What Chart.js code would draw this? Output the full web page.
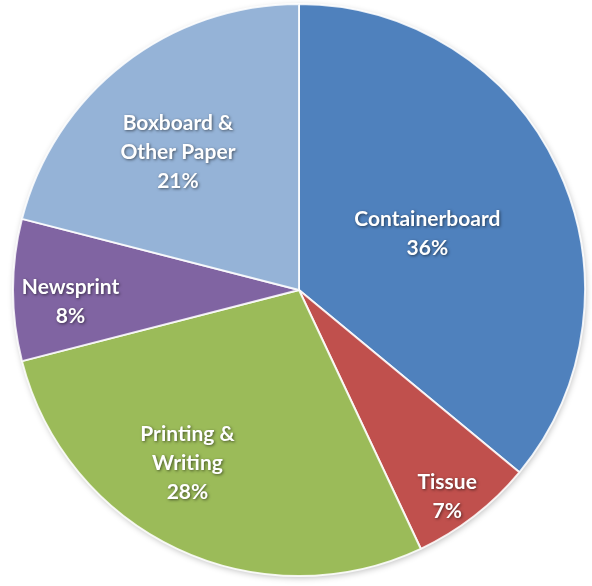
<!DOCTYPE html>
<html>
<head>
<meta charset="utf-8">
<script src="https://cdn.jsdelivr.net/npm/chart.js@4"></script>
<style>
  html, body { margin: 0; padding: 0; background: #fff; }
  #paperChart { display: block; }
</style>
</head>
<body>
<canvas id="paperChart" width="592" height="586"></canvas>
<script>
"use strict";
// Paper & board production by grade
const categories = ["Containerboard", "Tissue", ["Printing &", "Writing"], "Newsprint", ["Boxboard &", "Other Paper"]];
const shares = [36, 7, 28, 8, 21];
const sliceColors = ["#4F81BD", "#C0504D", "#9BBB59", "#8064A2", "#95B3D7"];

// White backing disc with a soft shadow under the slices
const pieShadow = {
    id: "pieShadow",
    beforeDatasetsDraw(chart) {
        const arc = chart.getDatasetMeta(0).data[0];
        if (!arc) return;
        const ctx = chart.ctx;
        ctx.save();
        ctx.shadowColor = "rgba(0,0,0,0.25)";
        ctx.shadowBlur = 6;
        ctx.shadowOffsetX = 1;
        ctx.shadowOffsetY = 2;
        ctx.fillStyle = "#fff";
        ctx.beginPath();
        ctx.arc(arc.x, arc.y, arc.outerRadius, 0, Math.PI * 2);
        ctx.fill();
        ctx.restore();
    }
};

// Category name + percentage written inside each slice
const sliceLabels = {
    id: "sliceLabels",
    afterDatasetsDraw(chart, args, opts) {
        const ctx = chart.ctx;
        const meta = chart.getDatasetMeta(0);
        ctx.save();
        ctx.font = opts.font;
        ctx.fillStyle = "#fff";
        ctx.textAlign = "center";
        ctx.textBaseline = "middle";
        ctx.shadowColor = "rgba(0,0,0,0.55)";
        ctx.shadowBlur = 3;
        ctx.shadowOffsetX = 1;
        ctx.shadowOffsetY = 1;
        meta.data.forEach((arc, i) => {
            const place = opts.place[i];
            const mid = (arc.startAngle + arc.endAngle) / 2 + place[1] * Math.PI / 180;
            const r = arc.outerRadius * place[0];
            const cx = arc.x + Math.cos(mid) * r;
            const cy = arc.y + Math.sin(mid) * r;
            const name = [].concat(chart.data.labels[i]);
            const lines = name.concat(shares[i] + "%");
            const top = cy - (lines.length - 1) * opts.lineHeight / 2;
            lines.forEach((t, j) => ctx.fillText(t, cx, top + j * opts.lineHeight));
        });
        ctx.restore();
    }
};

new Chart(document.getElementById("paperChart"), {
    type: "pie",
    data: {
        labels: categories,
        datasets: [{
            data: shares,
            backgroundColor: sliceColors,
            borderColor: "rgba(255,255,255,0.85)",
            borderWidth: 2
        }]
    },
    options: {
        responsive: false,
        animation: false,
        events: [],
        layout: { padding: { left: 12, right: 6, top: 3, bottom: 9 } },
        plugins: {
            legend: { display: false },
            tooltip: { enabled: false },
            sliceLabels: {
                font: "bold 21px Lato",
                lineHeight: 29,
                // [fraction of radius, angle shift in degrees]
                place: [[0.49, 1.5], [0.89, 2.2], [0.72, 7.6], [0.8, -3], [0.64, -3.6]]
            }
        }
    },
    plugins: [pieShadow, sliceLabels]
});
</script>
</body>
</html>
